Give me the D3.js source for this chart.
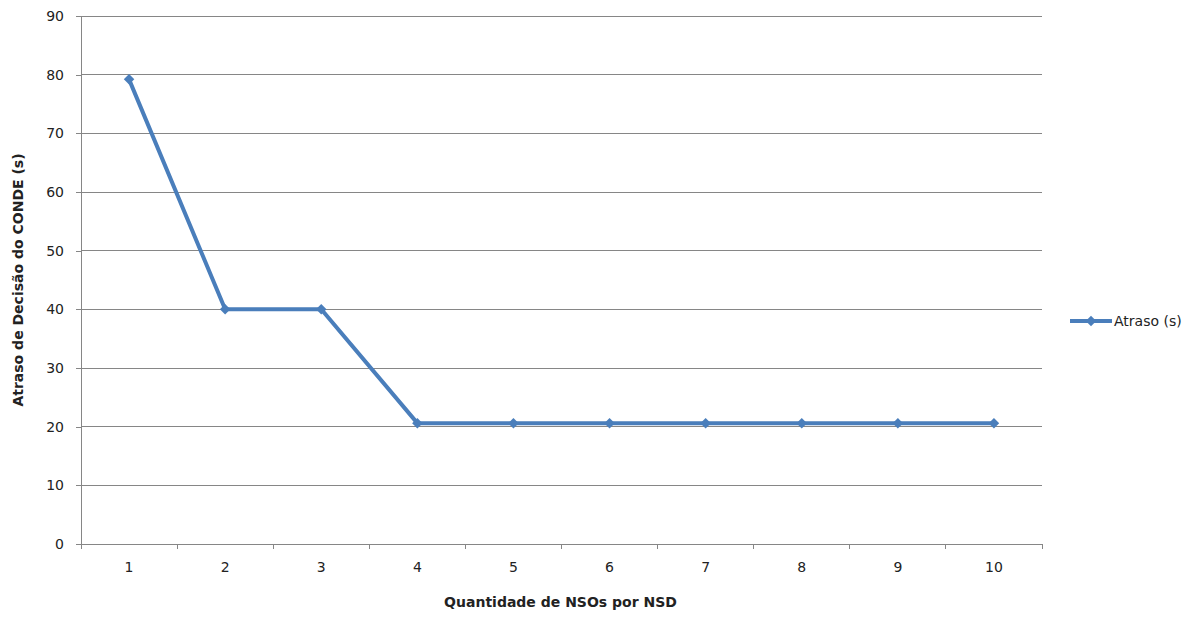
<!DOCTYPE html>
<html>
<head>
<meta charset="utf-8">
<script src="https://cdn.jsdelivr.net/npm/d3@7"></script>
<style>
  body { margin: 0; background: #fff; }
  text { font-family: "DejaVu Sans", Verdana, sans-serif; fill: #222; }
</style>
</head>
<body>
<div id="container"></div>
<script>
// data
let categories = ["1", "2", "3", "4", "5", "6", "7", "8", "9", "10"];
let delays = [79.2, 40, 40, 20.6, 20.6, 20.6, 20.6, 20.6, 20.6, 20.6];
let yTicks = [0, 10, 20, 30, 40, 50, 60, 70, 80, 90];
let seriesName = "Atraso (s)";

let w = 1201;
let h = 624;
let padL = 81, padR = 1042, padT = 16, padB = 544;
let blue = "#4a7ebb";
let grey = "#868686";

let viz = d3.select("#container")
  .append("svg")
  .attr("width", w)
  .attr("height", h);

let x = d3.scaleBand().domain(categories).range([padL, padR]);
let y = d3.scaleLinear().domain([0, 90]).range([padB, padT]);

// grid lines
viz.selectAll(".grid").data(yTicks).enter()
  .append("line")
  .attr("x1", padL).attr("x2", padR)
  .attr("y1", d => y(d)).attr("y2", d => y(d))
  .attr("stroke", grey).attr("stroke-width", 1)
  .attr("shape-rendering", "crispEdges");

// y axis
let yAxis = viz.append("g")
  .attr("transform", `translate(${padL},0)`)
  .call(d3.axisLeft(y).tickValues(yTicks).tickSize(5).tickPadding(12));

// x axis
let xTickPos = categories.map(c => x(c)).concat([padR]);
let xAxis = viz.append("g")
  .attr("transform", `translate(0,${padB})`);
xAxis.append("line")
  .attr("x1", padL).attr("x2", padR)
  .attr("stroke", grey).attr("shape-rendering", "crispEdges");
xAxis.selectAll(".tk").data(xTickPos).enter()
  .append("line")
  .attr("x1", d => d).attr("x2", d => d)
  .attr("y1", 0).attr("y2", 5)
  .attr("stroke", grey).attr("shape-rendering", "crispEdges");
xAxis.selectAll(".lb").data(categories).enter()
  .append("text")
  .attr("x", d => x(d) + x.bandwidth() / 2)
  .attr("y", 28)
  .attr("text-anchor", "middle")
  .style("font-size", "14px")
  .text(d => d);

yAxis.select(".domain").attr("stroke", grey).attr("shape-rendering", "crispEdges");
yAxis.selectAll(".tick line").attr("stroke", grey).attr("shape-rendering", "crispEdges");
yAxis.selectAll(".tick text")
  .style("font-size", "14px")
  .style("font-family", "DejaVu Sans, sans-serif")
  .attr("fill", "#222");

// axis titles
viz.append("text")
  .attr("x", (padL + padR) / 2 - 1)
  .attr("y", 607)
  .attr("text-anchor", "middle")
  .style("font-size", "14px")
  .style("font-weight", "bold")
  .text("Quantidade de NSOs por NSD");

viz.append("text")
  .attr("transform", `translate(23,${(padT + padB) / 2}) rotate(-90)`)
  .attr("text-anchor", "middle")
  .style("font-size", "14px")
  .style("font-weight", "bold")
  .text("Atraso de Decisão do CONDE (s)");

// series line
let cx = (d, i) => x(categories[i]) + x.bandwidth() / 2;
let line = d3.line().x(cx).y(d => y(d));

viz.append("path")
  .datum(delays)
  .attr("d", line)
  .attr("fill", "none")
  .attr("stroke", blue)
  .attr("stroke-width", 4)
  .attr("stroke-linejoin", "round");

let diamond = d3.symbol().type(d3.symbolSquare).size(55);
viz.selectAll(".pt").data(delays).enter()
  .append("path")
  .attr("d", diamond)
  .attr("transform", (d, i) => `translate(${cx(d, i)},${y(d)}) rotate(45)`)
  .attr("fill", blue);

// legend
let lg = viz.append("g").attr("transform", "translate(1070,321)");
lg.append("line").attr("x1", 0).attr("x2", 42)
  .attr("stroke", blue).attr("stroke-width", 4);
lg.append("path").attr("d", diamond)
  .attr("transform", "translate(21,0) rotate(45)")
  .attr("fill", blue);
lg.append("text").attr("x", 44).attr("y", 5)
  .style("font-size", "14px")
  .text(seriesName);
</script>
</body>
</html>
